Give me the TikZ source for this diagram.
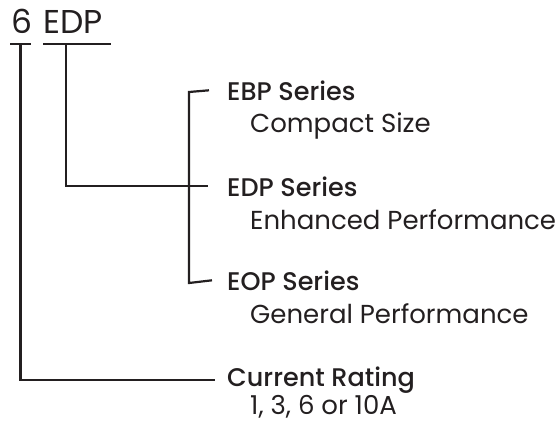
\documentclass[tikz,border=0pt]{standalone}
\usepackage{fontspec}
\setmainfont{Poppins}[BoldFont={Poppins Medium}]
\usepackage{xcolor}
\usetikzlibrary{calc}
\definecolor{ink}{HTML}{231F20}
\tikzstyle{stem}=[ink, line width=2.2pt, line cap=butt, line join=miter]
\tikzstyle{code}=[ink, font=\fontsize{33}{38}\selectfont, anchor=base west, inner sep=0pt]
\tikzstyle{series}=[ink, font=\fontsize{25.5}{30}\selectfont\bfseries, anchor=base west, inner sep=0pt]
\tikzstyle{info}=[ink, font=\fontsize{26}{30}\selectfont, anchor=base west, inner sep=0pt]
\newcommand{\labelX}{227}
\newcommand{\infoX}{250}

\begin{document}
\begin{tikzpicture}[x=1pt,y=-1pt]
\useasboundingbox (0,0) rectangle (557,424);
% part number
\node[code] (amps) at (11,33) {6};
\node[code] (type) at (43,33) {EDP};
\coordinate (ampsL) at (10,44);
\coordinate (ampsR) at (31,44);
\coordinate (typeL) at (43,44);
\coordinate (typeR) at (111,44);
\draw[stem] (ampsL) -- (ampsR);
\draw[stem] (typeL) -- (typeR);
% labels
\node[series] (ebp) at (\labelX,100) {EBP Series};
\node[info] (ebpI) at (\infoX,132) {Compact Size};
\node[series] (edp) at (\labelX,196) {EDP Series};
\node[info] (edpI) at (\infoX,229) {Enhanced Performance};
\node[series] (eop) at (\labelX,290) {EOP Series};
\node[info] (eopI) at (\infoX,323) {General Performance};
\node[series] (cur) at (\labelX,386) {Current Rating};
\node[info] (curI) at (\infoX,414) {1, 3, 6 or 10A};
% bracket
\coordinate (bTop) at (189,92);
\coordinate (bBot) at (189,283);
\draw[stem] ($(ebp.west)+(-18,0)$) -- (bTop) -- (bBot) -- ($(eop.west)+(-15,0)$);
% stems
\draw[stem] ($(typeL)!.34!(typeR)$) |- ($(edp.west)+(-19,0)$);
\draw[stem] ($(ampsL)!.5!(ampsR)$) |- ($(cur.west)+(-12,0)$);
\end{tikzpicture}
\end{document}
